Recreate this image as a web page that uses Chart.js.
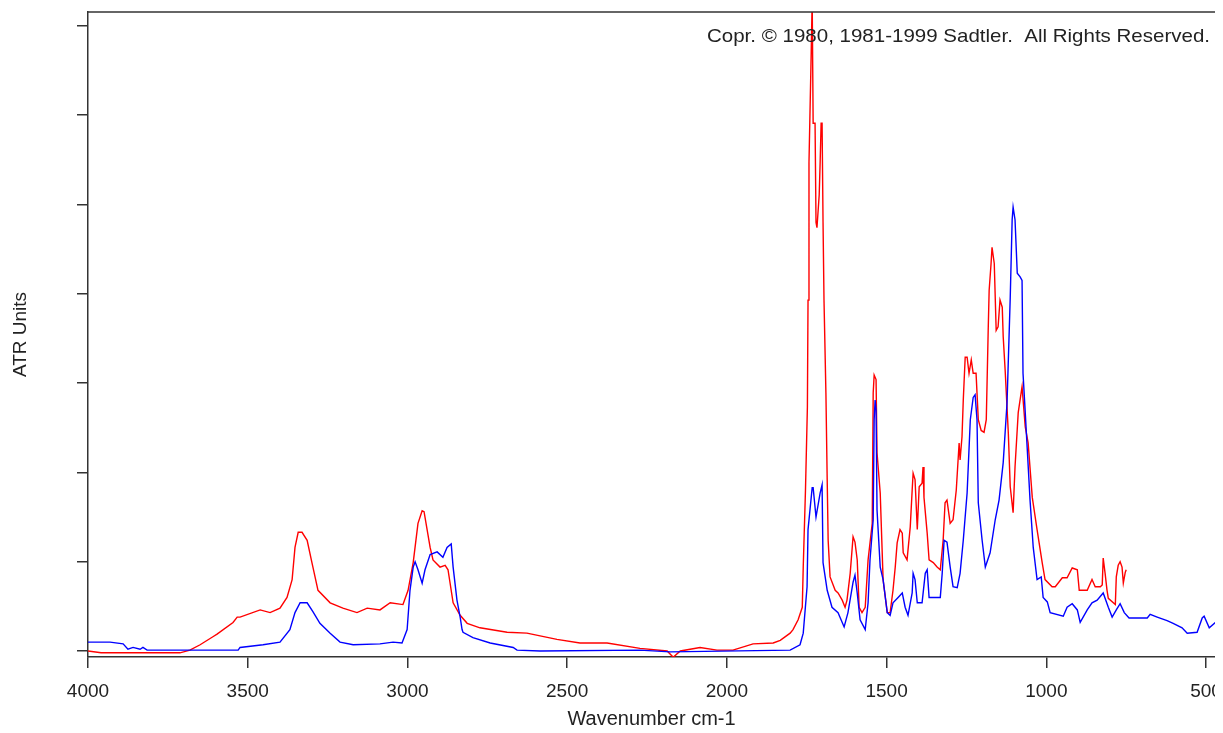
<!DOCTYPE html>
<html>
<head>
<meta charset="utf-8">
<title>ATR spectrum</title>
<script src="https://cdn.jsdelivr.net/npm/chart.js@4.4.1/dist/chart.umd.min.js"></script>
<style>
  html, body { margin: 0; padding: 0; background: #fff; }
  #wrap { position: relative; width: 1215px; height: 733px; }
</style>
</head>
<body>
<div id="wrap"><canvas id="spectrum"></canvas></div>
<script>
// wavenumber (cm-1) and ATR absorbance for the two spectra
const redWavenumbers = [4000, 3959, 3712, 3681, 3649, 3609, 3596, 3546, 3533, 3524, 3461, 3430, 3399, 3377, 3361, 3352, 3342, 3330, 3314, 3299, 3280, 3242, 3202, 3158, 3126, 3086, 3054, 3014, 2998, 2982, 2967, 2954, 2948, 2929, 2920, 2898, 2882, 2873, 2857, 2835, 2813, 2773, 2688, 2626, 2532, 2460, 2375, 2272, 2187, 2168, 2146, 2084, 2031, 1981, 1918, 1855, 1833, 1802, 1793, 1777, 1764, 1761, 1754, 1748, 1746, 1743, 1736, 1733, 1730, 1724, 1721, 1718, 1711, 1708, 1705, 1702, 1699, 1696, 1690, 1686, 1683, 1677, 1661, 1652, 1639, 1630, 1624, 1614, 1605, 1599, 1592, 1586, 1577, 1567, 1558, 1545, 1542, 1539, 1533, 1530, 1520, 1511, 1498, 1489, 1480, 1473, 1467, 1458, 1451, 1448, 1436, 1426, 1420, 1417, 1411, 1404, 1398, 1389, 1386, 1383, 1373, 1367, 1354, 1342, 1332, 1323, 1317, 1311, 1301, 1292, 1282, 1273, 1270, 1264, 1260, 1254, 1248, 1242, 1235, 1229, 1220, 1213, 1204, 1195, 1188, 1182, 1179, 1173, 1170, 1163, 1157, 1151, 1145, 1138, 1135, 1129, 1119, 1113, 1104, 1098, 1088, 1076, 1066, 1057, 1044, 1029, 1013, 1004, 982, 972, 950, 935, 919, 903, 897, 872, 857, 847, 831, 825, 822, 816, 810, 806, 784, 781, 775, 769, 763, 759, 753, 750];
const redValues = [0.000, -0.002, -0.002, 0.001, 0.007, 0.016, 0.019, 0.032, 0.038, 0.038, 0.046, 0.043, 0.048, 0.060, 0.080, 0.116, 0.133, 0.133, 0.124, 0.099, 0.068, 0.054, 0.048, 0.043, 0.048, 0.046, 0.054, 0.052, 0.068, 0.099, 0.143, 0.157, 0.156, 0.116, 0.102, 0.094, 0.096, 0.091, 0.054, 0.040, 0.031, 0.026, 0.021, 0.020, 0.013, 0.009, 0.009, 0.003, 0.000, -0.007, 0.000, 0.004, 0.001, 0.001, 0.008, 0.009, 0.012, 0.020, 0.024, 0.035, 0.049, 0.094, 0.180, 0.273, 0.393, 0.547, 0.671, 0.730, 0.591, 0.591, 0.480, 0.474, 0.511, 0.548, 0.591, 0.591, 0.480, 0.393, 0.289, 0.192, 0.124, 0.083, 0.068, 0.065, 0.057, 0.049, 0.057, 0.087, 0.128, 0.122, 0.102, 0.049, 0.043, 0.049, 0.102, 0.143, 0.289, 0.309, 0.304, 0.222, 0.177, 0.080, 0.043, 0.043, 0.068, 0.094, 0.121, 0.136, 0.132, 0.110, 0.102, 0.139, 0.180, 0.199, 0.192, 0.136, 0.184, 0.188, 0.206, 0.172, 0.132, 0.102, 0.099, 0.094, 0.091, 0.124, 0.166, 0.169, 0.143, 0.147, 0.180, 0.233, 0.214, 0.240, 0.281, 0.329, 0.329, 0.311, 0.326, 0.311, 0.311, 0.259, 0.247, 0.245, 0.259, 0.359, 0.404, 0.434, 0.452, 0.434, 0.359, 0.363, 0.393, 0.385, 0.352, 0.315, 0.244, 0.184, 0.155, 0.206, 0.267, 0.296, 0.251, 0.233, 0.172, 0.136, 0.099, 0.080, 0.072, 0.072, 0.082, 0.082, 0.093, 0.091, 0.068, 0.068, 0.080, 0.072, 0.072, 0.074, 0.104, 0.087, 0.068, 0.059, 0.052, 0.083, 0.096, 0.100, 0.094, 0.076, 0.088, 0.091];

const blueWavenumbers = [4000, 3931, 3890, 3875, 3859, 3837, 3828, 3815, 3530, 3524, 3452, 3399, 3368, 3352, 3336, 3314, 3296, 3274, 3242, 3211, 3170, 3086, 3045, 3017, 3001, 2992, 2982, 2976, 2967, 2954, 2945, 2929, 2907, 2889, 2876, 2863, 2857, 2845, 2835, 2829, 2826, 2795, 2741, 2669, 2657, 2585, 2272, 2178, 1802, 1771, 1761, 1749, 1746, 1733, 1730, 1721, 1708, 1702, 1699, 1686, 1671, 1652, 1633, 1621, 1605, 1599, 1592, 1583, 1567, 1558, 1552, 1542, 1539, 1536, 1533, 1530, 1520, 1511, 1498, 1489, 1480, 1464, 1451, 1442, 1433, 1420, 1417, 1411, 1404, 1389, 1379, 1373, 1367, 1332, 1326, 1320, 1311, 1301, 1292, 1279, 1270, 1260, 1248, 1238, 1229, 1223, 1217, 1213, 1201, 1191, 1176, 1160, 1148, 1135, 1123, 1113, 1107, 1104, 1098, 1091, 1082, 1076, 1073, 1066, 1060, 1051, 1041, 1029, 1016, 1010, 997, 988, 947, 935, 919, 903, 894, 872, 857, 841, 822, 806, 794, 781, 769, 756, 741, 684, 675, 653, 622, 603, 575, 559, 528, 512, 506, 490, 471];
const blueValues = [0.010, 0.010, 0.008, 0.002, 0.004, 0.002, 0.004, 0.001, 0.001, 0.004, 0.007, 0.010, 0.024, 0.043, 0.054, 0.054, 0.044, 0.031, 0.020, 0.010, 0.007, 0.008, 0.010, 0.009, 0.024, 0.068, 0.094, 0.100, 0.091, 0.076, 0.091, 0.108, 0.111, 0.105, 0.116, 0.120, 0.094, 0.057, 0.038, 0.024, 0.021, 0.015, 0.009, 0.004, 0.001, 0.000, 0.001, -0.001, 0.001, 0.007, 0.020, 0.072, 0.136, 0.183, 0.183, 0.150, 0.177, 0.186, 0.099, 0.068, 0.049, 0.043, 0.027, 0.043, 0.077, 0.085, 0.065, 0.035, 0.024, 0.054, 0.102, 0.147, 0.259, 0.281, 0.270, 0.158, 0.094, 0.080, 0.043, 0.040, 0.054, 0.060, 0.065, 0.049, 0.040, 0.065, 0.087, 0.080, 0.054, 0.054, 0.087, 0.091, 0.060, 0.060, 0.087, 0.124, 0.122, 0.094, 0.072, 0.071, 0.087, 0.124, 0.177, 0.259, 0.284, 0.287, 0.259, 0.166, 0.124, 0.094, 0.110, 0.147, 0.169, 0.211, 0.278, 0.396, 0.483, 0.497, 0.483, 0.423, 0.419, 0.415, 0.311, 0.267, 0.228, 0.169, 0.116, 0.080, 0.083, 0.060, 0.055, 0.043, 0.039, 0.049, 0.053, 0.046, 0.032, 0.046, 0.054, 0.057, 0.065, 0.049, 0.038, 0.046, 0.053, 0.043, 0.037, 0.037, 0.041, 0.038, 0.034, 0.031, 0.026, 0.020, 0.021, 0.037, 0.039, 0.026, 0.032];

const xTickValues = [4000, 3500, 3000, 2500, 2000, 1500, 1000, 500];
const yTickValues = [0, 0.1, 0.2, 0.3, 0.4, 0.5, 0.6, 0.7];
const copyrightText = 'Copr. \u00a9 1980, 1981-1999 Sadtler.  All Rights Reserved.';

const toPoints = (xs, ys) => xs.map((x, i) => ({ x: x, y: ys[i] }));

const axisColor = '#333333';
const labelFont = { family: 'Liberation Sans, Arial, sans-serif', size: 19 };

// frame line along the top of the plot and the copyright note
const framePlugin = {
    id: 'frame',
    afterDraw(chart) {
        const { ctx, chartArea } = chart;
        ctx.save();
        ctx.strokeStyle = axisColor;
        ctx.lineWidth = 1.5;
        ctx.beginPath();
        ctx.moveTo(chartArea.left, chartArea.top);
        ctx.lineTo(chartArea.right, chartArea.top);
        ctx.stroke();

        // note runs from x=707 to x=1210, stretched a little to fit
        ctx.fillStyle = '#222';
        ctx.font = '19px "Liberation Sans", Arial, sans-serif';
        ctx.textBaseline = 'alphabetic';
        ctx.textAlign = 'left';
        const w = ctx.measureText(copyrightText).width;
        ctx.translate(707, 42);
        ctx.scale(503 / w, 1);
        ctx.fillText(copyrightText, 0, 0);
        ctx.restore();
    }
};

const ctx = document.getElementById('spectrum').getContext('2d');
const spectrumChart = new Chart(ctx, {
    type: 'line',
    data: {
        datasets: [{
            label: 'blue',
            data: toPoints(blueWavenumbers, blueValues),
            borderColor: '#0000ff',
            borderWidth: 1.4,
            pointRadius: 0,
            tension: 0
        }, {
            label: 'red',
            data: toPoints(redWavenumbers, redValues),
            borderColor: '#ff0000',
            borderWidth: 1.4,
            pointRadius: 0,
            tension: 0
        }]
    },
    options: {
        responsive: true,
        maintainAspectRatio: false,
        animation: false,
        layout: { padding: { top: 12, right: 0, bottom: 0, left: 0 } },
        plugins: {
            legend: { display: false },
            tooltip: { enabled: false }
        },
        scales: {
            x: {
                type: 'linear',
                reverse: true,
                min: 472,
                max: 4000,
                grid: { drawOnChartArea: false, drawTicks: true, tickLength: 11, color: axisColor, lineWidth: 1.5 },
                border: { display: true, color: axisColor, width: 1.5 },
                ticks: {
                    autoSkip: false,
                    maxRotation: 0,
                    padding: 12,
                    color: '#222',
                    font: labelFont,
                    callback: (value) => String(value)
                },
                title: {
                    display: true,
                    text: 'Wavenumber cm-1',
                    color: '#222',
                    font: { family: 'Liberation Sans, Arial, sans-serif', size: 20 },
                    padding: { top: 0, bottom: 2 }
                },
                afterBuildTicks: (scale) => {
                    scale.ticks = xTickValues.map(v => ({ value: v }));
                },
                afterFit: (scale) => {
                    scale.height = 76;
                    scale.paddingLeft = 0;
                    scale.paddingRight = 0;
                }
            },
            y: {
                type: 'linear',
                min: -0.0067,
                max: 0.7156,
                grid: { drawOnChartArea: false, drawTicks: true, tickLength: 11, color: axisColor, lineWidth: 1.5 },
                border: { display: true, color: axisColor, width: 1.5 },
                ticks: { display: false },
                title: {
                    display: true,
                    text: 'ATR Units',
                    color: '#222',
                    font: labelFont,
                    padding: { top: 9, bottom: 0 }
                },
                afterBuildTicks: (scale) => {
                    scale.ticks = yTickValues.map(v => ({ value: v }));
                },
                afterFit: (scale) => {
                    scale.width = 88;
                    scale.paddingTop = 0;
                    scale.paddingBottom = 0;
                }
            }
        }
    },
    plugins: [framePlugin]
});
</script>
</body>
</html>
